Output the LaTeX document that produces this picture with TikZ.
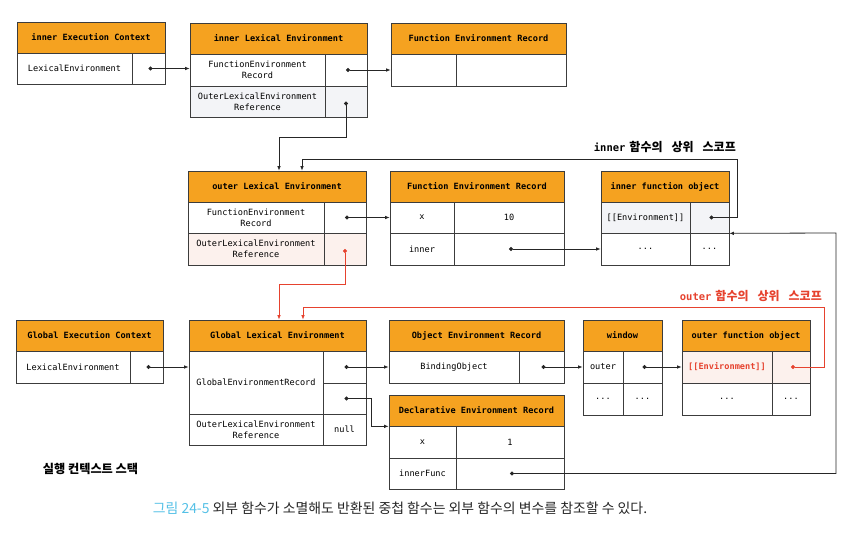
\documentclass[tikz,border=0pt]{standalone}
\usepackage{fontspec}
\setmonofont{DejaVu Sans Mono}
\newfontfamily\kr{Noto Sans CJK KR}
\usepackage{tikz}
\usetikzlibrary{arrows.meta}
\definecolor{hdrorange}{RGB}{245,162,32}
\definecolor{refred}{RGB}{230,66,46}
\definecolor{refpink}{RGB}{252,241,237}
\definecolor{refgray}{RGB}{243,244,247}
\definecolor{capblue}{RGB}{84,192,230}
\definecolor{boxline}{RGB}{60,60,60}

\begin{document}
\begin{tikzpicture}[x=1pt,y=-1pt,
    hdr/.style={draw=boxline,fill=hdrorange,line width=0.7pt,inner sep=0pt,
        minimum height=31pt,font=\ttfamily\bfseries\fontsize{8.6}{10.5}\selectfont},
    cell/.style={draw=boxline,fill=white,line width=0.7pt,inner sep=0pt,
        minimum height=31pt,align=center,font=\ttfamily\fontsize{8.6}{10.7}\selectfont},
    scopelbl/.style={anchor=south east,inner sep=0pt,font=\bfseries\fontsize{10.5}{12}\selectfont},
    ptr/.style={draw=black!85,line width=0.8pt,
        {Circle[length=4pt]}-{Latex[length=4.5pt,width=3.6pt]}},
    redptr/.style={ptr,draw=refred,color=refred}]
    \useasboundingbox (0,0) rectangle (856,534);

    % inner execution context
    \node[hdr,minimum width=148pt] (iec-h) at (91,37.5) {inner Execution Context};
    \node[cell,minimum width=115pt] (iec-k) at (74.5,68.5) {LexicalEnvironment};
    \node[cell,minimum width=33pt] (iec-v) at (148.5,68.5) {};

    \node[hdr,minimum width=177pt] (ile-h) at (278.5,38.5) {inner Lexical Environment};
    \node[cell,minimum width=135pt,minimum height=32pt] (ile-k1) at (257.5,70) {FunctionEnvironment\\Record};
    \node[cell,minimum width=42pt,minimum height=32pt] (ile-v1) at (346,70) {};
    \node[cell,fill=refgray,minimum width=135pt] (ile-k2) at (257.5,101.5) {OuterLexicalEnvironment\\Reference};
    \node[cell,fill=refgray,minimum width=42pt] (ile-v2) at (346,101.5) {};

    \node[hdr,minimum width=175pt] (ifer-h) at (478.5,38.5) {Function Environment Record};
    \node[cell,minimum width=65pt,minimum height=32pt] (ifer-k) at (423.5,70) {};
    \node[cell,minimum width=110pt,minimum height=32pt] (ifer-v) at (511,70) {};

    % outer
    \node[hdr,minimum width=178pt] (ole-h) at (277,186.5) {outer Lexical Environment};
    \node[cell,minimum width=136pt] (ole-k1) at (256,217.5) {FunctionEnvironment\\Record};
    \node[cell,minimum width=42pt] (ole-v1) at (345,217.5) {};
    \node[cell,fill=refpink,minimum width=136pt,minimum height=32pt] (ole-k2) at (256,249) {OuterLexicalEnvironment\\Reference};
    \node[cell,fill=refpink,minimum width=42pt,minimum height=32pt] (ole-v2) at (345,249) {};

    \node[hdr,minimum width=174pt] (ofer-h) at (477,186.5) {Function Environment Record};
    \node[cell,minimum width=64pt] (ofer-k1) at (422,217.5) {x};
    \node[cell,minimum width=110pt] (ofer-v1) at (509,217.5) {10};
    \node[cell,minimum width=64pt,minimum height=32pt] (ofer-k2) at (422,249) {inner};
    \node[cell,minimum width=110pt,minimum height=32pt] (ofer-v2) at (509,249) {};

    \node[hdr,minimum width=128pt] (ifo-h) at (665,186.5) {inner function object};
    \node[cell,fill=refgray,minimum width=89pt] (ifo-k1) at (645.5,217.5) {[[Environment]]};
    \node[cell,fill=refgray,minimum width=39pt] (ifo-v1) at (709.5,217.5) {};
    \node[cell,minimum width=89pt,minimum height=32pt] (ifo-k2) at (645.5,249) {...};
    \node[cell,minimum width=39pt,minimum height=32pt] (ifo-v2) at (709.5,249) {...};

    % global
    \node[hdr,minimum width=147pt] (gec-h) at (89.5,335.5) {Global Execution Context};
    \node[cell,minimum width=114pt,minimum height=32pt] (gec-k) at (73,367) {LexicalEnvironment};
    \node[cell,minimum width=33pt,minimum height=32pt] (gec-v) at (146.5,367) {};

    \node[hdr,minimum width=177pt] (gle-h) at (277.5,335.5) {Global Lexical Environment};
    \node[cell,minimum width=134pt,minimum height=63pt] (gle-k1) at (256,382.5) {GlobalEnvironmentRecord};
    \node[cell,minimum width=43pt,minimum height=32pt] (gle-v1) at (344.5,367) {};
    \node[cell,minimum width=43pt] (gle-v2) at (344.5,398.5) {};
    \node[cell,minimum width=134pt] (gle-k2) at (256,429.5) {OuterLexicalEnvironment\\Reference};
    \node[cell,minimum width=43pt] (gle-v3) at (344.5,429.5) {null};

    \node[hdr,minimum width=175pt] (oer-h) at (476.5,335.5) {Object Environment Record};
    \node[cell,minimum width=130pt,minimum height=32pt] (oer-k) at (454,367) {BindingObject};
    \node[cell,minimum width=45pt,minimum height=32pt] (oer-v) at (541.5,367) {};

    \node[hdr,minimum width=79pt] (win-h) at (622.5,335.5) {window};
    \node[cell,minimum width=40pt,minimum height=32pt] (win-k1) at (603,367) {outer};
    \node[cell,minimum width=39pt,minimum height=32pt] (win-v1) at (642.5,367) {};
    \node[cell,minimum width=40pt,minimum height=32pt] (win-k2) at (603,399) {...};
    \node[cell,minimum width=39pt,minimum height=32pt] (win-v2) at (642.5,399) {...};

    \node[hdr,minimum width=128pt] (ofo-h) at (746,335.5) {outer function object};
    \node[cell,fill=refpink,text=refred,font=\ttfamily\bfseries\fontsize{8.6}{10.7}\selectfont,
        minimum width=90pt,minimum height=32pt] (ofo-k1) at (727,367) {[[Environment]]};
    \node[cell,fill=refpink,minimum width=38pt,minimum height=32pt] (ofo-v1) at (791,367) {};
    \node[cell,minimum width=90pt,minimum height=32pt] (ofo-k2) at (727,399) {...};
    \node[cell,minimum width=38pt,minimum height=32pt] (ofo-v2) at (791,399) {...};

    \node[hdr,minimum width=175pt] (der-h) at (476.5,410.5) {Declarative Environment Record};
    \node[cell,minimum width=67pt,minimum height=32pt] (der-k1) at (422.5,442) {x};
    \node[cell,minimum width=108pt,minimum height=32pt] (der-v1) at (510,442) {1};
    \node[cell,minimum width=67pt] (der-k2) at (422.5,473.5) {innerFunc};
    \node[cell,minimum width=108pt] (der-v2) at (510,473.5) {};

    % labels
    \node[scopelbl] (lbl-inner) at (736,153)
        {{\ttfamily inner} {\kr\fontsize{12}{13}\selectfont 함수의\hspace{9pt}상위\hspace{9pt}스코프}};
    \node[scopelbl,text=refred] (lbl-outer) at (822,302)
        {{\ttfamily outer} {\kr\fontsize{12}{13}\selectfont 함수의\hspace{9pt}상위\hspace{9pt}스코프}};
    \node[font=\kr\bfseries\fontsize{12.2}{14}\selectfont] (lbl-stack) at (90.5,469) {실행 컨텍스트 스택};
    \node[font=\kr\fontsize{13.9}{16}\selectfont,text=black!85] (caption) at (400,508)
        {\textcolor{capblue}{그림 24-5} 외부 함수가 소멸해도 반환된 중첩 함수는 외부 함수의 변수를 참조할 수 있다.};

    % connectors
    \coordinate (c1) at (279,137);
    \coordinate (c2) at (737,159);
    \coordinate (c3) at (302,159);
    \coordinate (c4) at (836,233);
    \coordinate (c5) at (279,284);
    \coordinate (c6) at (824,307);
    \coordinate (c7) at (303,307);

    \draw[ptr] (iec-v.center) -- (iec-v.center -| ile-k1.west);
    \draw[ptr] (ile-v1.center) -- (ile-v1.center -| ifer-k.west);
    \draw[ptr] (ile-v2.center) |- (c1) -- (c1 |- ole-h.north);
    \draw[ptr] (ifo-v1.center) -| (c2) -- (c3) -- (c3 |- ole-h.north);
    \draw[ptr] (ole-v1.center) -- (ole-v1.center -| ofer-k1.west);
    \draw[ptr] (ofer-v2.center) -- (ofer-v2.center -| ifo-k2.west);
    \draw[ptr] (der-v2.center) -| (c4) -- (ifo-v1.south east);
    \draw[redptr] (ole-v2.center) |- (c5) -- (c5 |- gle-h.north);
    \draw[redptr] (ofo-v1.center) -| (c6) -- (c7) -- (c7 |- gle-h.north);
    \draw[ptr] (gec-v.center) -- (gec-v.center -| gle-k1.west);
    \draw[ptr] (gle-v1.center) -- (gle-v1.center -| oer-k.west);
    \draw[ptr] (gle-v2.center) -- ++(27,0) |- (der-h.south west);
    \draw[ptr] (oer-v.center) -- (oer-v.center -| win-k1.west);
    \draw[ptr] (win-v1.center) -- (win-v1.center -| ofo-k1.west);
\end{tikzpicture}
\end{document}
